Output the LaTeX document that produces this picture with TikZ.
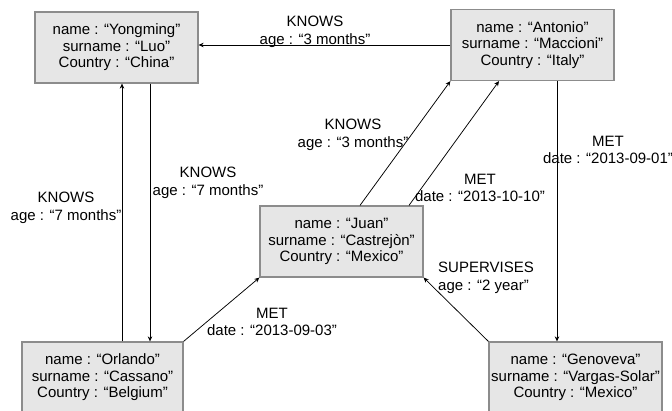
\documentclass[tikz,border=0pt]{standalone}
\usepackage{fontspec}
\setmainfont{Liberation Sans}
\usetikzlibrary{arrows.meta}

\definecolor{boxfill}{RGB}{230,230,230}
\definecolor{boxline}{RGB}{140,140,140}

\tikzset{every picture/.style={line width=0.75pt}}
\tikzset{
  entity/.style={draw=boxline, line width=1.2pt, fill=boxfill, inner sep=0pt,
    minimum width=163pt, minimum height=71pt, align=center,
    font=\fontsize{15}{16.5}\selectfont},
  lbl/.style={inner sep=0pt, align=center, font=\fontsize{15}{17.5}\selectfont},
  conn/.style={draw=black, line width=0.75pt, -{Stealth[length=5pt,width=4.5pt]}}
}

\begin{document}
\begin{tikzpicture}[x=1pt,y=1pt,yscale=-1,xscale=1]
\useasboundingbox (0,0) rectangle (672,411);

%Shape: Rectangle [Yongming]
\node[entity] (yong) at (116.5,47.5) {name : “Yongming”\\surname : “Luo”\\Country : “China”};
%Shape: Rectangle [Antonio]
\node[entity] (anto) at (532.5,45) {name : “Antonio”\\surname : “Maccioni”\\Country : “Italy”};
%Shape: Rectangle [Juan]
\node[entity] (juan) at (341.5,241.5) {name : “Juan”\\surname : “Castrejòn”\\Country : “Mexico”};
%Shape: Rectangle [Orlando]
\node[entity, minimum width=161pt] (orla) at (102.5,377.5) {name : “Orlando”\\surname : “Cassano”\\Country : “Belgium”};
%Shape: Rectangle [Genoveva]
\node[entity, minimum width=173pt] (geno) at (575.5,377.5) {name : “Genoveva”\\surname : “Vargas-Solar”\\Country : “Mexico”};

%Straight Lines
\draw[conn] (anto.west) -- (yong.east |- anto.west);
\draw[conn] (orla.north -| 122,0) -- (yong.south -| 122,0);
\draw[conn] (yong.south -| 150,0) -- (orla.north -| 150,0);
\draw[conn] (orla.north east) -- (juan.south west);
\draw[conn] (juan.north -| 360,0) -- (anto.south west);
\draw[conn] (juan.north -| 409,0) -- (anto.south -| 499,0);
\draw[conn] (anto.south -| 557,0) -- (geno.north -| 557,0);
\draw[conn] (geno.north west) -- (juan.south east);

% Text Node
\node[lbl] (knowsA) at (315,32) {KNOWS\\age : “3 months”};
% Text Node
\node[lbl] (knowsB) at (66,208) {KNOWS\\age : “7 months”};
% Text Node
\node[lbl] (knowsC) at (208,183) {KNOWS\\age : “7 months”};
% Text Node
\node[lbl] (metA) at (272,322) {MET\\date : “2013-09-03”};
% Text Node
\node[lbl] (knowsD) at (353,135) {KNOWS\\age : “3 months”};
% Text Node
\node[lbl] (metB) at (480,188) {MET\\date : “2013-10-10”};
% Text Node
\node[lbl] (metC) at (608,150) {MET\\date : “2013-09-01”};
% Text Node
\node[lbl, align=left] (superv) at (486,278) {SUPERVISES\\age : “2 year”};

\end{tikzpicture}
\end{document}
